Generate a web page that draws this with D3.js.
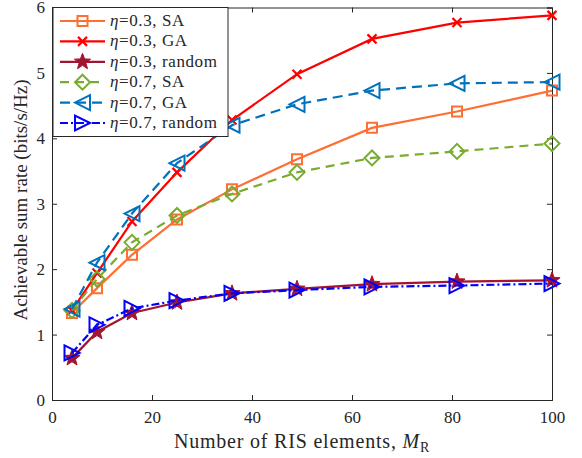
<!DOCTYPE html>
<html><head><meta charset="utf-8">
<script src="https://cdn.jsdelivr.net/npm/d3@7"></script>
<style>body{margin:0;background:#fff}svg{display:block}text{font-family:"Liberation Serif","Times New Roman",serif;fill:#262626}</style>
</head><body><svg id="c" width="582" height="458"></svg>
<script>
const elements = [4, 9, 16, 25, 36, 49, 64, 81, 100];
const sa03 = [1.33, 1.71, 2.22, 2.76, 3.22, 3.68, 4.16, 4.41, 4.73];
const ga03 = [1.37, 1.94, 2.73, 3.48, 4.28, 4.98, 5.52, 5.77, 5.88];
const rnd03 = [0.64, 1.04, 1.33, 1.49, 1.63, 1.70, 1.77, 1.81, 1.83];
const sa07 = [1.37, 1.85, 2.41, 2.82, 3.15, 3.48, 3.70, 3.80, 3.92];
const ga07 = [1.39, 2.10, 2.85, 3.62, 4.20, 4.52, 4.73, 4.84, 4.86];
const rnd07 = [0.72, 1.15, 1.40, 1.52, 1.63, 1.68, 1.73, 1.75, 1.78];
const xTicks = [0, 20, 40, 60, 80, 100];
const yTicks = [0, 1, 2, 3, 4, 5, 6];
const labels = ["0.3, SA", "0.3, GA", "0.3, random", "0.7, SA", "0.7, GA", "0.7, random"];

const series = [
  {name: labels[0], v: sa03, color: "#FF6E33", dash: null, marker: "square"},
  {name: labels[1], v: ga03, color: "#FF0000", dash: null, marker: "x"},
  {name: labels[2], v: rnd03, color: "#A2142F", dash: null, marker: "star"},
  {name: labels[3], v: sa07, color: "#77AC30", dash: "9,6", marker: "diamond"},
  {name: labels[4], v: ga07, color: "#0072BD", dash: "10,6", marker: "tleft"},
  {name: labels[5], v: rnd07, color: "#0000FF", dash: "8,3,2,3", marker: "tright"}
];

const svg = d3.select("#c");
const L = 52, R = 552, T = 7.5, B = 400;
const x = d3.scaleLinear().domain([0, 100]).range([L, R]);
const y = d3.scaleLinear().domain([0, 6]).range([B, T]);

svg.append("rect").attr("x", L).attr("y", T).attr("width", R - L).attr("height", B - T).attr("fill", "#fff");

// axes
const tickLen = 5;
const fmt = d3.format("d");
const gx = svg.append("g").attr("transform", `translate(0,${B})`)
  .call(d3.axisBottom(x).tickValues(xTicks).tickSize(-tickLen).tickPadding(11).tickFormat(fmt));
const gxt = svg.append("g").attr("transform", `translate(0,${T})`)
  .call(d3.axisTop(x).tickValues(xTicks).tickSize(-tickLen).tickFormat(""));
const gy = svg.append("g").attr("transform", `translate(${L},0)`)
  .call(d3.axisLeft(y).tickValues(yTicks).tickSize(-tickLen).tickPadding(7).tickFormat(fmt));
const gyr = svg.append("g").attr("transform", `translate(${R},0)`)
  .call(d3.axisRight(y).tickValues(yTicks).tickSize(-tickLen).tickFormat(""));
[gx, gxt, gy, gyr].forEach(g => {
  g.selectAll("path").attr("stroke", "#262626").attr("stroke-width", 1);
  g.selectAll("line").attr("stroke", "#262626").attr("stroke-width", 1);
  g.selectAll("text").attr("font-size", 17).attr("font-family", "Liberation Serif").attr("fill", "#262626");
});

function markerPath(type, s) {
  const h = s / 2;
  switch (type) {
    case "square": return `M${-h},${-h}H${h}V${h}H${-h}Z`;
    case "x": return `M${-h},${-h}L${h},${h}M${-h},${h}L${h},${-h}`;
    case "diamond": return `M0,${-h}L${h},0L0,${h}L${-h},0Z`;
    case "tleft": return `M${-h},0L${h},${-h}L${h},${h}Z`;
    case "tright": return `M${h},0L${-h},${-h}L${-h},${h}Z`;
    case "star": {
      let p = "";
      for (let i = 0; i < 10; i++) {
        const r = i % 2 === 0 ? h : h * 0.42;
        const a = -Math.PI / 2 + i * Math.PI / 5;
        p += (i ? "L" : "M") + (r * Math.cos(a)).toFixed(2) + "," + (r * Math.sin(a)).toFixed(2);
      }
      return p + "Z";
    }
  }
}
const msize = {square: 10, x: 9, star: 17, diamond: 15, tleft: 15, tright: 15};

function drawMarker(g, s, cx, cy) {
  const p = g.append("path").attr("d", markerPath(s.marker, msize[s.marker]))
    .attr("transform", `translate(${cx},${cy})`)
    .attr("stroke", s.color).attr("stroke-width", s.marker === "x" ? 2.2 : 2);
  if (s.marker === "star") p.attr("fill", s.color).attr("stroke-width", 1);
  else p.attr("fill", "none");
}

const line = d3.line().x(d => x(d[0])).y(d => y(d[1]));
const plot = svg.append("g");
series.forEach(s => {
  const pts = elements.map((e, i) => [e, s.v[i]]);
  plot.append("path").datum(pts).attr("d", line).attr("fill", "none")
    .attr("stroke", s.color).attr("stroke-width", 2.2)
    .attr("stroke-dasharray", s.dash);
  pts.forEach(p => drawMarker(plot, s, x(p[0]), y(p[1])));
});

// legend
const lg = svg.append("g");
lg.append("rect").attr("x", 53).attr("y", 7.5).attr("width", 175).attr("height", 129)
  .attr("fill", "#fff").attr("stroke", "#262626").attr("stroke-width", 1);
series.forEach((s, i) => {
  const yy = 21 + i * 20.4;
  lg.append("line").attr("x1", 60).attr("x2", 105).attr("y1", yy).attr("y2", yy)
    .attr("stroke", s.color).attr("stroke-width", 2.2).attr("stroke-dasharray", s.dash);
  drawMarker(lg, s, 82.5, yy);
  const t = lg.append("text").attr("x", 110).attr("y", yy + 5).attr("font-size", 17)
    .attr("letter-spacing", 0.6);
  t.append("tspan").attr("font-style", "italic").text("η");
  t.append("tspan").text("=" + s.name);
});

// axis labels
const xl = svg.append("text").attr("x", 302).attr("y", 448).attr("text-anchor", "middle")
  .attr("font-size", 20).attr("letter-spacing", 0.8);
xl.append("tspan").text("Number of RIS elements, ");
xl.append("tspan").attr("font-style", "italic").text("M");
xl.append("tspan").attr("font-size", 14).attr("dy", 4).text("R");

svg.append("text").attr("transform", "translate(27,200) rotate(-90)").attr("text-anchor", "middle")
  .attr("font-size", 19).text("Achievable sum rate (bits/s/Hz)");
</script></body></html>
